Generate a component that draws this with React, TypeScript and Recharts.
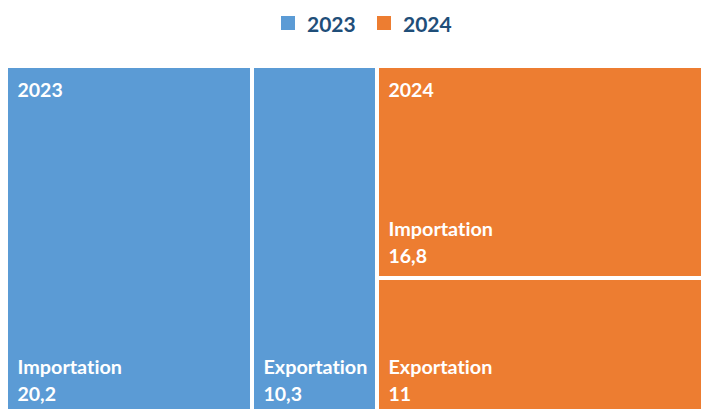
import React from 'react';
import { Treemap } from 'recharts';

const groups = ['2023', '2024'];
const flows = ['Importation', 'Exportation'];
const values2023 = [20.2, 10.3];
const values2024 = [16.8, 11];
const groupColors = ['#5B9BD5', '#ED7D31'];

const seriesValues = [values2023, values2024];

const data = groups.map((g, gi) => ({
  name: g,
  children: flows.map((f, fi) => ({
    name: f,
    value: seriesValues[gi][fi],
    group: g,
    groupIndex: gi,
    first: fi === 0,
  })),
}));

const FONT = 'Lato, "Open Sans", sans-serif';

const fmt = (v: number) => String(v).replace('.', ',');

const textStyle: React.CSSProperties = { fontVariantLigatures: 'none', fontFeatureSettings: '"liga" 0, "clig" 0' };

const Cell = (props: any) => {
  const { depth, x, y, width, height, name, value, group, groupIndex, first } = props;
  if (depth !== 2) return <g />;
  const inset = 2;
  return (
    <g>
      <rect
        x={x + inset}
        y={y + inset}
        width={Math.max(0, width - inset * 2)}
        height={Math.max(0, height - inset * 2)}
        fill={groupColors[groupIndex]}
        stroke="none"
      />
      {first && (
        <text x={x + 11.5} y={y + 30.5} fill="#fff" fontFamily={FONT} fontWeight={700} fontSize={19.5} style={textStyle}>
          {group}
        </text>
      )}
      <text x={x + 11.5} y={y + height - 42.5} fill="#fff" fontFamily={FONT} fontWeight={700} fontSize={19.8} style={textStyle}>
        {name}
      </text>
      <text x={x + 11.5} y={y + height - 15} fill="#fff" fontFamily={FONT} fontWeight={700} fontSize={19.5} style={textStyle}>
        {fmt(value)}
      </text>
    </g>
  );
};

const legendX = [281, 377];

export default function App() {
  return (
    <>
      <style>{'html,body{overflow:hidden;}'}</style>
      <div style={{ position: 'relative', width: 701, height: 401, overflow: 'hidden', background: '#fff' }}>
        {groups.map((g, i) => (
          <div key={g}>
            <div
              style={{
                position: 'absolute',
                left: legendX[i] - 8,
                top: 16 - 8,
                width: 14,
                height: 14,
                background: groupColors[i],
              }}
            />
            <div
              style={{
                position: 'absolute',
                left: legendX[i] + 26 - 8,
                top: 11 - 8,
                fontFamily: FONT,
                fontWeight: 700,
                fontSize: 21,
                lineHeight: '25px',
                color: '#1F4E79',
              }}
            >
              {g}
            </div>
          </div>
        ))}
        <div style={{ position: 'absolute', left: -2, top: 58 }}>
          <Treemap
            width={709}
            height={350}
            data={data}
            dataKey="value"
            nameKey="name"
            aspectRatio={1}
            isAnimationActive={false}
            content={<Cell />}
          />
        </div>
      </div>
    </>
  );
}
